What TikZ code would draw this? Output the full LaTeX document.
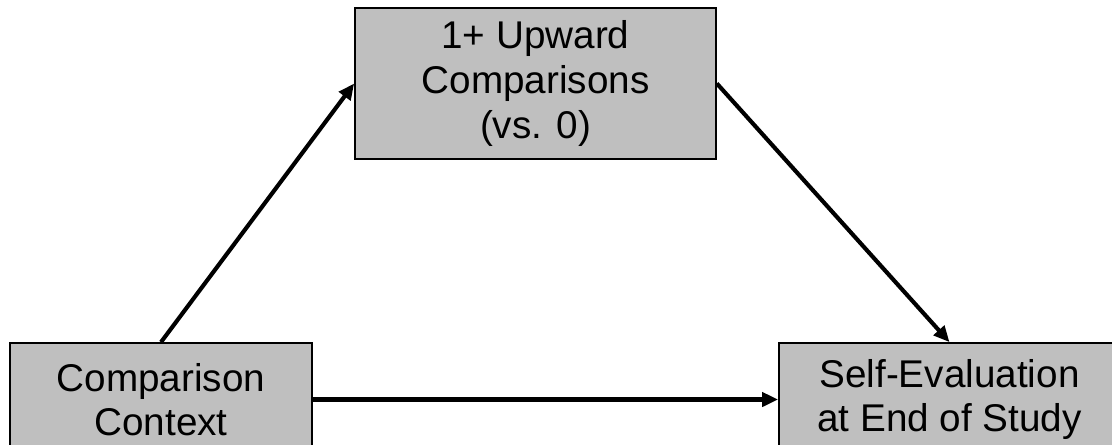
\documentclass[tikz,border=0pt]{standalone}
\usepackage{fontspec}
\setmainfont{Liberation Sans}
\usetikzlibrary{arrows.meta}
\begin{document}
\begin{tikzpicture}[x=0.75pt,y=-0.75pt,
  boxnode/.style={draw=black,line width=1.3pt,fill=black!25,inner sep=0pt,align=center,
    font=\fontsize{29pt}{33.5pt}\selectfont},
  arr/.style={line width=3.1pt,-{Triangle[length=12pt,width=10.5pt]}}]
\useasboundingbox (0,0) rectangle (1112,444);
\clip (0,0) rectangle (1112,444);
\node[boxnode,minimum width=361*0.75pt,minimum height=151*0.75pt] (top) at (535.5,83.5) {1+ Upward\\Comparisons\\(vs. 0)};
\node[boxnode,minimum width=301.5*0.75pt,minimum height=113*0.75pt] (left) at (161,399.5) {Comparison\\Context};
\node[boxnode,minimum width=341*0.75pt,minimum height=113*0.75pt] (right) at (949.5,399.5) {Self-Evaluation\\at End of Study};
\draw[arr] (left.north) -- (top.west);
\draw[arr] (top.east) -- (right.north);
\draw[arr] (left.east) -- (right.west);
\end{tikzpicture}
\end{document}
